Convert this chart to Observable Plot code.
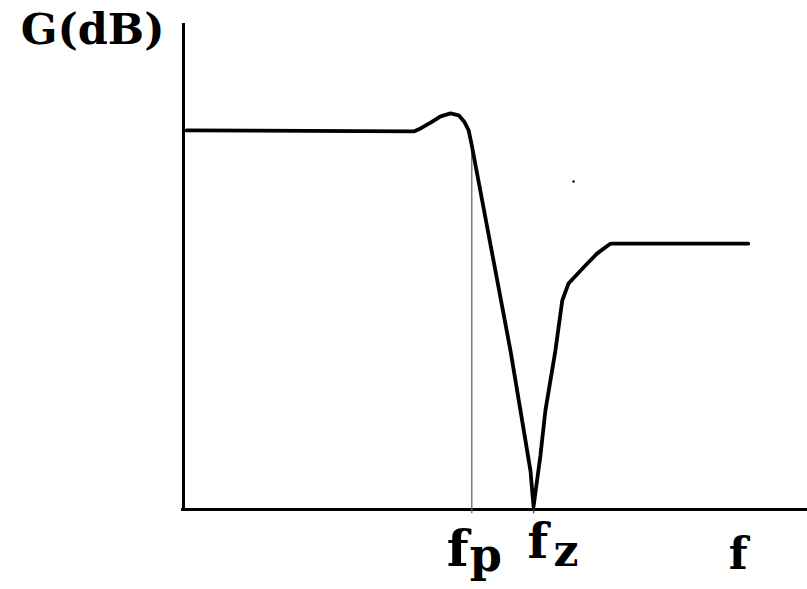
<!DOCTYPE html>
<html><head><meta charset="utf-8">
<script src="https://cdn.jsdelivr.net/npm/d3@7"></script>
<script src="https://cdn.jsdelivr.net/npm/@observablehq/plot@0.6"></script>
<style>html,body{margin:0;padding:0;background:#fff;} #chart svg{display:block}</style>
</head><body><div id="chart"></div>
<script>
// Notch response: gain (arbitrary dB units) against frequency (arbitrary units)
const freq = [0.5, 36.9, 38.0, 39.6, 41.2, 42.8, 44.1, 45.0, 45.7, 46.2, 52.4, 54.0, 55.6, 56.1, 57.2, 58.0, 59.6, 60.7, 61.7, 64.1, 66.3, 68.4, 90.5];
const gain = [78.0, 77.8, 78.4, 79.6, 80.9, 81.5, 81.1, 79.8, 78.0, 74.9, 32.7, 20.4, 8.0, 0.6, 11.1, 20.4, 32.7, 43.0, 46.5, 49.8, 52.7, 54.7, 54.7];

// Pole and zero frequencies, and the gain at the pole
const fPole = 46.2;
const fZero = 56.1;
const gainAtPole = 74.9;
const fAxisLabelAt = 88.9;

// A stray point on the sheet
const strayX = [62.5];
const strayY = [67.5];

const response = freq.map((f, i) => ({f, g: gain[i]}));
const serif = "DejaVu Serif";

const chart = Plot.plot({
  width: 807,
  height: 589,
  marginLeft: 183,
  marginRight: 0,
  marginTop: 23,
  marginBottom: 80,
  x: {domain: [0, 100], axis: null},
  y: {domain: [0, 100], axis: null},
  style: {background: "#fff"},
  marks: [
    // axes
    Plot.ruleY([0], {stroke: "#000", strokeWidth: 3, x1: -0.3, x2: 100}),
    Plot.ruleX([0], {stroke: "#000", strokeWidth: 3}),
    // pole marker and zero tick
    Plot.ruleX([fPole], {y1: -0.9, y2: gainAtPole, stroke: "#666", strokeWidth: 1.3}),
    Plot.ruleX([fZero], {y1: -0.9, y2: 0, stroke: "#444", strokeWidth: 1.3}),
    // response curve
    Plot.line(response, {x: "f", y: "g", stroke: "#000", strokeWidth: 3.8, curve: "linear", strokeLinejoin: "round"}),
    Plot.dot(strayX.map((x, i) => ({x, y: strayY[i]})), {x: "x", y: "y", r: 1.2, fill: "#000", stroke: null}),
    // y axis title
    Plot.text(["G(dB)"], {frameAnchor: "top-left", textAnchor: "end", lineAnchor: "bottom", dx: -19, dy: 20,
      fontFamily: serif, fontWeight: "bold", fontSize: 43, fill: "#000"}),
    // f_p label
    Plot.text([fPole], {x: d => d, frameAnchor: "bottom", textAnchor: "end", lineAnchor: "bottom", dx: -3, dy: 56,
      text: () => "f", fontFamily: serif, fontWeight: "bold", fontSize: 51, fill: "#000"}),
    Plot.text([fPole], {x: d => d, frameAnchor: "bottom", textAnchor: "start", lineAnchor: "bottom", dx: -2, dy: 61,
      text: () => "p", fontFamily: serif, fontWeight: "bold", fontSize: 46, fill: "#000"}),
    // f_z label
    Plot.text([fZero], {x: d => d, frameAnchor: "bottom", textAnchor: "start", lineAnchor: "bottom", dx: -6, dy: 48,
      text: () => "f", fontFamily: serif, fontWeight: "bold", fontSize: 48, fill: "#000"}),
    Plot.text([fZero], {x: d => d, frameAnchor: "bottom", textAnchor: "start", lineAnchor: "bottom", dx: 20, dy: 56,
      text: () => "z", fontFamily: serif, fontWeight: "bold", fontSize: 44, fill: "#000"}),
    // x axis title
    Plot.text([fAxisLabelAt], {x: d => d, frameAnchor: "bottom", textAnchor: "middle", lineAnchor: "bottom", dy: 59,
      text: () => "f", fontFamily: serif, fontWeight: "bold", fontSize: 44, fill: "#000"})
  ]
});
document.getElementById("chart").appendChild(chart);
</script>
</body></html>
